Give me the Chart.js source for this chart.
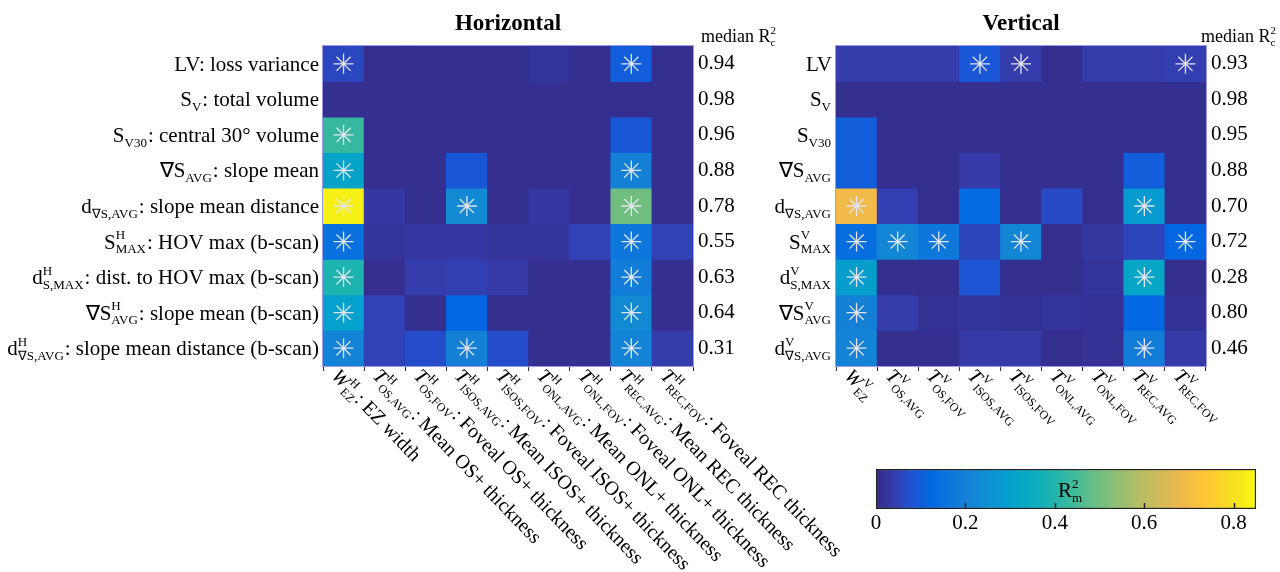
<!DOCTYPE html>
<html>
<head>
<meta charset="utf-8">
<script src="https://cdn.jsdelivr.net/npm/chart.js@4.4.1/dist/chart.umd.min.js"></script>
<style>
  body { margin: 0; background: #fff; }
  .layer { position: absolute; left: 0; top: 0; width: 1280px; height: 572px; }
</style>
</head>
<body>
<div class="layer"><canvas id="horizChart" width="1280" height="572"></canvas></div>
<div class="layer"><canvas id="vertChart" width="1280" height="572"></canvas></div>
<div class="layer"><canvas id="cbarChart" width="1280" height="572"></canvas></div>
<script>
// ---- data ----
const rowsH = ['LV: loss variance', 'S_{V}: total volume', 'S_{V30}: central 30° volume',
    '∇S_{AVG}: slope mean', 'd_{∇S,AVG}: slope mean distance', 'S^{H}_{MAX}: HOV max (b-scan)',
    'd^{H}_{S,MAX}: dist. to HOV max (b-scan)', '∇S^{H}_{AVG}: slope mean (b-scan)',
    'd^{H}_{∇S,AVG}: slope mean distance (b-scan)'];
const colsH = ['~W^{H}_{EZ}: EZ width', '~T^{H}_{OS,AVG}: Mean OS+ thickness', '~T^{H}_{OS,FOV}: Foveal OS+ thickness',
    '~T^{H}_{ISOS,AVG}: Mean ISOS+ thickness', '~T^{H}_{ISOS,FOV}: Foveal ISOS+ thickness',
    '~T^{H}_{ONL,AVG}: Mean ONL+ thickness', '~T^{H}_{ONL,FOV}: Foveal ONL+ thickness',
    '~T^{H}_{REC,AVG}: Mean REC thickness', '~T^{H}_{REC,FOV}: Foveal REC thickness'];
const rowsV = ['LV', 'S_{V}', 'S_{V30}', '∇S_{AVG}', 'd_{∇S,AVG}', 'S^{V}_{MAX}', 'd^{V}_{S,MAX}',
    '∇S^{V}_{AVG}', 'd^{V}_{∇S,AVG}'];
const colsV = ['~W^{V}_{EZ}', '~T^{V}_{OS,AVG}', '~T^{V}_{OS,FOV}', '~T^{V}_{ISOS,AVG}', '~T^{V}_{ISOS,FOV}',
    '~T^{V}_{ONL,AVG}', '~T^{V}_{ONL,FOV}', '~T^{V}_{REC,AVG}', '~T^{V}_{REC,FOV}'];

// R^2_m per row (columns in the order above)
const r2H = [
    [0.06, 0.01, 0.01, 0.01, 0.01, 0.02, 0.01, 0.10, 0.01],
    [0.01, 0.01, 0.01, 0.01, 0.01, 0.01, 0.01, 0.01, 0.01],
    [0.43, 0.01, 0.01, 0.01, 0.01, 0.01, 0.01, 0.09, 0.01],
    [0.31, 0.01, 0.01, 0.09, 0.01, 0.01, 0.01, 0.20, 0.01],
    [0.83, 0.03, 0.01, 0.23, 0.01, 0.03, 0.01, 0.50, 0.01],
    [0.15, 0.02, 0.03, 0.03, 0.02, 0.02, 0.05, 0.17, 0.05],
    [0.39, 0.01, 0.04, 0.045, 0.035, 0.01, 0.01, 0.19, 0.01],
    [0.30, 0.05, 0.01, 0.12, 0.01, 0.01, 0.01, 0.23, 0.01],
    [0.21, 0.05, 0.07, 0.20, 0.07, 0.01, 0.01, 0.21, 0.04]
];
const r2V = [
    [0.04, 0.04, 0.04, 0.09, 0.04, 0.01, 0.04, 0.04, 0.045],
    [0.01, 0.01, 0.01, 0.01, 0.01, 0.01, 0.01, 0.01, 0.01],
    [0.10, 0.01, 0.01, 0.01, 0.01, 0.01, 0.01, 0.01, 0.01],
    [0.10, 0.01, 0.01, 0.035, 0.01, 0.01, 0.01, 0.10, 0.01],
    [0.69, 0.045, 0.01, 0.13, 0.01, 0.065, 0.01, 0.28, 0.01],
    [0.14, 0.22, 0.17, 0.055, 0.22, 0.01, 0.025, 0.055, 0.12],
    [0.29, 0.01, 0.01, 0.085, 0.01, 0.01, 0.02, 0.32, 0.01],
    [0.20, 0.04, 0.015, 0.02, 0.015, 0.02, 0.015, 0.12, 0.015],
    [0.21, 0.01, 0.01, 0.035, 0.035, 0.01, 0.015, 0.19, 0.035]
];
// column indices marked with an asterisk, per row
const starsH = [[0, 7], [], [0], [0, 7], [0, 3, 7], [0, 7], [0, 7], [0, 7], [0, 3, 7]];
const starsV = [[3, 4, 8], [], [], [], [0, 7], [0, 1, 2, 4, 8], [0, 7], [0], [0, 7]];
const medianH = ['0.94', '0.98', '0.96', '0.88', '0.78', '0.55', '0.63', '0.64', '0.31'];
const medianV = ['0.93', '0.98', '0.95', '0.88', '0.70', '0.72', '0.28', '0.80', '0.46'];
const cbarMax = 0.85;
const cbarTicks = [0, 0.2, 0.4, 0.6, 0.8];

// parula, every 3rd entry of the 64 colour map
const parulaStops = [
    [0.2081, 0.1663, 0.5292], [0.2081, 0.2386, 0.6771], [0.1253, 0.3242, 0.8303], [0.0060, 0.4086, 0.8828],
    [0.0498, 0.4586, 0.8641], [0.0779, 0.5040, 0.8384], [0.0641, 0.5570, 0.8240], [0.0265, 0.6137, 0.8135],
    [0.0228, 0.6535, 0.7768], [0.0590, 0.6838, 0.7254], [0.1453, 0.7098, 0.6646], [0.2586, 0.7317, 0.5954],
    [0.3953, 0.7459, 0.5244], [0.5300, 0.7491, 0.4661], [0.6473, 0.7456, 0.4188], [0.7525, 0.7384, 0.3768],
    [0.8507, 0.7299, 0.3360], [0.9450, 0.7261, 0.2886], [0.9990, 0.7653, 0.2164], [0.9789, 0.8271, 0.1633],
    [0.9589, 0.8949, 0.1132], [0.9763, 0.9831, 0.0538]
];

function parula(v) {
    const t = Math.max(0, Math.min(1, v / cbarMax));
    const p = t * (parulaStops.length - 1);
    const i = Math.min(Math.floor(p), parulaStops.length - 2);
    const f = p - i;
    const a = parulaStops[i], b = parulaStops[i + 1];
    const c = a.map((x, k) => Math.round(255 * (x + (b[k] - x) * f)));
    return `rgb(${c[0]},${c[1]},${c[2]})`;
}

const SERIF = '"Liberation Serif", "Times New Roman", serif';
Chart.defaults.font.family = SERIF;
Chart.defaults.color = '#000';

// ---- rich text (sub / superscripts) ----
function parseRich(s) {
    const out = [];
    let buf = '';
    let i = 0;
    const flush = () => { if (buf) { out.push({ k: 'n', t: buf }); buf = ''; } };
    while (i < s.length) {
        const c = s[i];
        if ((c === '^' || c === '_') && s[i + 1] === '{') {
            const j = s.indexOf('}', i);
            const txt = s.slice(i + 2, j);
            flush();
            let last = out[out.length - 1];
            if (!last || last.k !== 'ss') { last = { k: 'ss', sup: '', sub: '' }; out.push(last); }
            if (c === '^') last.sup = txt; else last.sub = txt;
            i = j + 1;
        } else if (c === '~') {
            flush();
            out.push({ k: 'i', t: s[i + 1] });
            i += 2;
        } else {
            buf += c;
            i++;
        }
    }
    flush();
    return out;
}

function richFonts(size) {
    return {
        n: `${size}px ${SERIF}`,
        i: `italic ${size}px ${SERIF}`,
        s: `${Math.round(size * 0.6)}px ${SERIF}`
    };
}

function richWidth(ctx, items, size) {
    const f = richFonts(size);
    let w = 0;
    items.forEach(it => {
        if (it.k === 'ss') {
            ctx.font = f.s;
            w += Math.max(ctx.measureText(it.sup).width, ctx.measureText(it.sub).width) + 1;
        } else {
            ctx.font = it.k === 'i' ? f.i : f.n;
            w += ctx.measureText(it.t).width + (it.k === 'i' ? 1 : 0);
        }
    });
    return w;
}

// y is the baseline
function drawRich(ctx, str, x, y, size, align) {
    const items = parseRich(str);
    const f = richFonts(size);
    if (align === 'right') x -= richWidth(ctx, items, size);
    if (align === 'center') x -= richWidth(ctx, items, size) / 2;
    ctx.textAlign = 'left';
    ctx.textBaseline = 'alphabetic';
    items.forEach(it => {
        if (it.k === 'ss') {
            ctx.font = f.s;
            if (it.sup) ctx.fillText(it.sup, x, y - size * 0.45);
            if (it.sub) ctx.fillText(it.sub, x, y + size * 0.22);
            x += Math.max(ctx.measureText(it.sup).width, ctx.measureText(it.sub).width) + 1;
        } else {
            ctx.font = it.k === 'i' ? f.i : f.n;
            ctx.fillText(it.t, x, y);
            x += ctx.measureText(it.t).width + (it.k === 'i' ? 1 : 0);
        }
    });
}

// labels, title and frame drawn around the heat map
const heatDecor = {
    id: 'heatDecor',
    beforeDatasetsDraw(chart) {
        const a = chart.chartArea;
        const ctx = chart.ctx;
        ctx.save();
        ctx.fillStyle = parula(0);
        ctx.fillRect(a.left, a.top, a.right - a.left, a.bottom - a.top);
        ctx.restore();
    },
    afterDraw(chart, args, opts) {
        const ctx = chart.ctx;
        const a = chart.chartArea;
        const xs = chart.scales.x, ys = chart.scales.y;
        ctx.save();
        ctx.fillStyle = '#000';
        // frame
        ctx.strokeStyle = '#9a9ae8';
        ctx.lineWidth = 1;
        ctx.strokeRect(a.left - 0.5, a.top - 0.5, a.right - a.left + 1, a.bottom - a.top + 1);
        // title
        ctx.font = `bold 23px ${SERIF}`;
        ctx.textAlign = 'center';
        ctx.textBaseline = 'middle';
        ctx.fillText(opts.title, (a.left + a.right) / 2, 24);
        // median header
        if (opts.headerRight) drawRich(ctx, 'median R^{2}_{c}', opts.headerRight, 42, 18, 'right');
        else drawRich(ctx, 'median R^{2}_{c}', a.right + 8, 42, 18, 'left');
        // row labels
        opts.rows.forEach((r, i) => {
            drawRich(ctx, r, a.left - 4, ys.getPixelForValue(i + 0.5) + 7, 21, 'right');
        });
        // rotated column labels
        opts.cols.forEach((c, i) => {
            ctx.save();
            ctx.translate(xs.getPixelForValue(i) - 8, a.bottom + 6);
            ctx.rotate(46 * Math.PI / 180);
            drawRich(ctx, c, 0, 7, 20, 'left');
            ctx.restore();
        });
        ctx.restore();
    }
};

function renderHeatmap(canvasId, rows, cols, vals, stars, medians, title, padLeft, headerRight) {
    const datasets = vals.map((row, r) => ({
        type: 'bar',
        data: row.map(() => [r, r + 1]),
        backgroundColor: row.map(parula),
        borderWidth: 0,
        grouped: false,
        barPercentage: 1,
        categoryPercentage: 1,
        order: 1
    }));
    datasets.push({
        type: 'scatter',
        data: stars.flatMap((cs, r) => cs.map(c => ({ x: cols[c], y: r + 0.5 }))),
        pointStyle: 'star',
        pointRadius: 10,
        borderColor: '#e4e4f0',
        backgroundColor: '#e4e4f0',
        borderWidth: 1.3,
        order: 0
    });

    const ctx = document.getElementById(canvasId).getContext('2d');
    new Chart(ctx, {
        type: 'bar',
        data: { labels: cols, datasets: datasets },
        options: {
            responsive: false,
            animation: false,
            devicePixelRatio: 1,
            layout: { padding: { left: padLeft, right: 1280 - padLeft - 370 - 60, top: 46, bottom: 572 - 366 - 5 } },
            plugins: {
                legend: { display: false },
                tooltip: { enabled: false },
                heatDecor: { title: title, rows: rows, cols: cols, headerRight: headerRight }
            },
            scales: {
                x: {
                    type: 'category',
                    offset: true,
                    ticks: { display: false },
                    grid: { drawOnChartArea: false, drawTicks: true, tickLength: 5, color: '#333' },
                    border: { display: false },
                    afterFit: (s) => { s.height = 5; }
                },
                y: { type: 'linear', min: 0, max: 9, reverse: true, display: false },
                y2: {
                    type: 'category',
                    labels: medians,
                    position: 'right',
                    offset: true,
                    grid: { display: false, drawTicks: false },
                    border: { display: false },
                    ticks: { font: { size: 21 }, color: '#000', padding: 5 },
                    afterFit: (s) => { s.width = 60; }
                }
            }
        },
        plugins: [heatDecor]
    });
}

renderHeatmap('horizChart', rowsH, colsH, r2H, starsH, medianH, 'Horizontal', 323, null);
renderHeatmap('vertChart', rowsV, colsV, r2V, starsV, medianV, 'Vertical', 836, 1277);

// ---- colour bar ----
const cbarDecor = {
    id: 'cbarDecor',
    afterDraw(chart) {
        const ctx = chart.ctx;
        const a = chart.chartArea;
        const xs = chart.scales.x;
        ctx.save();
        ctx.strokeStyle = '#222';
        ctx.lineWidth = 1.5;
        xs.ticks.forEach(t => {
            if (t.value <= 0) return;
            const px = Math.round(xs.getPixelForValue(t.value)) + 0.5;
            ctx.beginPath();
            ctx.moveTo(px, a.bottom);
            ctx.lineTo(px, a.bottom - 6);
            ctx.stroke();
        });
        ctx.fillStyle = '#000';
        drawRich(ctx, 'R^{2}_{m}', (a.left + a.right) / 2 - 8, a.top + 28, 21, 'left');
        ctx.restore();
    }
};

new Chart(document.getElementById('cbarChart').getContext('2d'), {
    type: 'bar',
    data: {
        labels: ['R2m'],
        datasets: [{
            data: [[0, cbarMax]],
            backgroundColor: (c) => {
                const ch = c.chart;
                if (!ch.chartArea) return parula(0);
                const xs = ch.scales.x;
                const g = ch.ctx.createLinearGradient(xs.getPixelForValue(0), 0, xs.getPixelForValue(cbarMax), 0);
                parulaStops.forEach((s, i) => {
                    g.addColorStop(i / (parulaStops.length - 1),
                        `rgb(${Math.round(s[0] * 255)},${Math.round(s[1] * 255)},${Math.round(s[2] * 255)})`);
                });
                return g;
            },
            borderColor: '#222',
            borderWidth: 1.5,
            borderSkipped: false,
            barPercentage: 1,
            categoryPercentage: 1
        }]
    },
    options: {
        indexAxis: 'y',
        responsive: false,
        animation: false,
        devicePixelRatio: 1,
        layout: { padding: { left: 876, right: 1280 - 1256, top: 469, bottom: 572 - 509 - 30 } },
        plugins: { legend: { display: false }, tooltip: { enabled: false } },
        scales: {
            x: {
                type: 'linear',
                min: 0,
                max: cbarMax,
                afterBuildTicks: (s) => { s.ticks = cbarTicks.map(v => ({ value: v })); },
                ticks: { font: { size: 21 }, color: '#000', padding: 2 },
                grid: { display: false, drawTicks: false },
                border: { display: false },
                afterFit: (s) => { s.height = 30; }
            },
            y: { type: 'category', display: false }
        }
    },
    plugins: [cbarDecor]
});
</script>
</body>
</html>
